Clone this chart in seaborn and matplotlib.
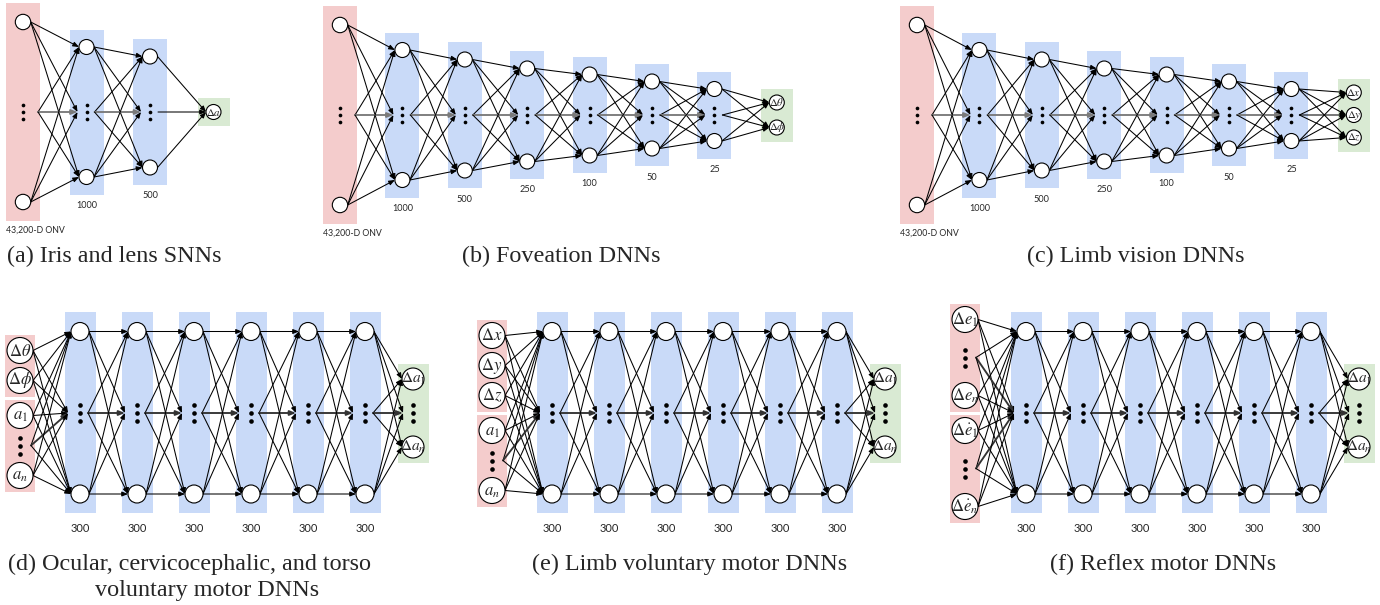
import matplotlib
matplotlib.use("Agg")
import matplotlib.pyplot as plt
from matplotlib.patches import Circle, Rectangle
import pandas as pd
import seaborn as sns

# ---- data ----
V = "vdots"  # a vertical ellipsis standing in for the rest of a layer

onv_label = "43,200-D ONV"
sizes_a = ["1000", "500"]
sizes_bc = ["1000", "500", "250", "100", "50", "25"]
sizes_def = ["300", "300", "300", "300", "300", "300"]

out_a = [r"$\Delta a$"]
out_b = [r"$\Delta\theta$", r"$\Delta\phi$"]
out_c = [r"$\Delta x$", r"$\Delta y$", r"$\Delta z$"]
out_def = [r"$\Delta a_1$", V, r"$\Delta a_n$"]

in_d = [[r"$\Delta\theta$", r"$\Delta\phi$"], [r"$a_1$", V, r"$a_n$"]]
in_e = [[r"$\Delta x$", r"$\Delta y$", r"$\Delta z$"], [r"$a_1$", V, r"$a_n$"]]
in_f = [[r"$\Delta e_1$", V, r"$\Delta e_n$"],
        [r"$\Delta\dot{e}_1$", V, r"$\Delta\dot{e}_n$"]]

cap_a = "(a) Iris and lens SNNs"
cap_b = "(b) Foveation DNNs"
cap_c = "(c) Limb vision DNNs"
cap_d = ["(d) Ocular, cervicocephalic, and torso", "voluntary motor DNNs"]
cap_e = ["(e) Limb voluntary motor DNNs"]
cap_f = ["(f) Reflex motor DNNs"]

PINK, BLUE, GREEN = "#F4CCCC", "#C9DAF8", "#D9EAD3"

sns.set_theme(style="white")
plt.rcParams["mathtext.fontset"] = "stix"
plt.rcParams["font.family"] = ["DejaVu Sans"]
SANS = "Lato"
SERIF = "Liberation Serif"
CAP_FS = 17.4

fig = plt.figure(figsize=(13.8, 6.05), dpi=100)
ax = fig.add_axes([0, 0, 1, 1])

dots_small = []
dots_big = []


def item(x, y, label, r, din, dout, fs, dotlist, gap):
    # returns (x, y, is_dots, left offset, right offset)
    if label == V:
        for k in (-1, 0, 1):
            dotlist.append((x, y + k * gap))
        return (x, y, True, din, dout)
    ax.add_patch(Circle((x, y), r, facecolor="white", edgecolor="black",
                        lw=0.8, zorder=3))
    ax.text(x, y, label, ha="center", va="center", fontsize=fs, zorder=4)
    return (x, y, False, r, r)


def link(a, b, grey, lw):
    col = "black"
    width = lw
    if a[2] and b[2]:
        col = grey
        width = lw * 1.8
    ax.annotate("", xy=(b[0] - b[3], b[1]), xytext=(a[0] + a[4], a[1]),
                arrowprops=dict(arrowstyle="-|>,head_length=0.5,head_width=0.2",
                                color=col, lw=width, shrinkA=0, shrinkB=0,
                                mutation_scale=7),
                zorder=2)


def connect(layers, grey, lw=0.75):
    for src, dst in zip(layers[:-1], layers[1:]):
        for a in src:
            for b in dst:
                link(a, b, grey, lw)


def top_panel(x0, yc, step, sizes, outs, out_gap, caption, cap_x):
    spreads = [65, 55.5, 46.5, 40.5, 33.5, 26]
    layers = []
    # input column
    sp_in = 90
    ax.add_patch(Rectangle((x0 - 17, yc - sp_in - 19), 34, 2 * sp_in + 38,
                           facecolor=PINK, lw=0, zorder=0))
    ax.text(x0 - 17, yc + sp_in + 28, onv_label, ha="left", va="center",
            fontsize=6.3, family=SANS)
    layers.append([item(x0, yc - sp_in, "", 7.7, 0, 0, 6, dots_small, 7),
                   item(x0, yc, V, 0, 0, 15, 6, dots_small, 7),
                   item(x0, yc + sp_in, "", 7.7, 0, 0, 6, dots_small, 7)])
    for i, lab in enumerate(sizes):
        x = x0 + step * (i + 1)
        sp = spreads[i]
        half = sp + 17.5
        ax.add_patch(Rectangle((x - 17, yc - half), 34, 2 * half,
                               facecolor=BLUE, lw=0, zorder=0))
        ax.text(x, yc + half + 11, lab, ha="center", va="center",
                fontsize=6.6, family=SANS)
        layers.append([item(x, yc - sp, "", 7.5, 0, 0, 6, dots_small, 7),
                       item(x, yc, V, 0, 9, 8, 6, dots_small, 7),
                       item(x, yc + sp, "", 7.5, 0, 0, 6, dots_small, 7)])
    x = x0 + step * (len(sizes) + 1)
    n = len(outs)
    h = (n - 1) * out_gap + 28
    ax.add_patch(Rectangle((x - 16, yc - h / 2), 32, h,
                           facecolor=GREEN, lw=0, zorder=0))
    layers.append([item(x, yc + (k - (n - 1) / 2) * out_gap, lab, 7.5, 0, 0,
                        7.8, dots_small, 7) for k, lab in enumerate(outs)])
    connect(layers, "#7a7a7a")
    ax.text(cap_x, 262, caption, ha="center", va="baseline",
            fontsize=CAP_FS, family=SERIF)


def bottom_panel(x_in, groups, in_step, x_h0, sizes, outs, caption, cap_xs):
    yc = 413
    pad, gap = 16, 3
    total = sum((len(g) - 1) * in_step + 2 * pad for g in groups) + gap * (len(groups) - 1)
    y = yc - total / 2
    first = []
    for g in groups:
        h = (len(g) - 1) * in_step + 2 * pad
        ax.add_patch(Rectangle((x_in - 15, y), 30, h, facecolor=PINK, lw=0, zorder=0))
        for k, lab in enumerate(g):
            first.append(item(x_in, y + pad + k * in_step, lab, 13, 0, 11,
                              12, dots_big, 8))
        y += h + gap
    layers = [first]
    step = 57
    for i, lab in enumerate(sizes):
        x = x_h0 + step * i
        ax.add_patch(Rectangle((x - 15.5, 312), 31, 201, facecolor=BLUE, lw=0, zorder=0))
        ax.text(x, 528, lab, ha="center", va="center", fontsize=8, family=SANS)
        layers.append([item(x, 331.5, "", 9, 0, 0, 10, dots_big, 8),
                       item(x, yc, V, 0, 12, 8, 10, dots_big, 8),
                       item(x, 494, "", 9, 0, 0, 10, dots_big, 8)])
    x = x_h0 + step * (len(sizes) - 1) + 48
    ax.add_patch(Rectangle((x - 15.5, 364), 31, 99, facecolor=GREEN, lw=0, zorder=0))
    n = len(outs)
    layers.append([item(x, yc + (k - (n - 1) / 2) * 34, lab, 11, 10, 0,
                        11, dots_big, 8) for k, lab in enumerate(outs)])
    connect(layers, "#333333")
    for k, (line, cx) in enumerate(zip(caption, cap_xs)):
        ax.text(cx, 570 + 26 * k, line, ha="center", va="baseline",
                fontsize=CAP_FS, family=SERIF)


top_panel(23, 112, 63.5, sizes_a, out_a, 0, cap_a, 114)
top_panel(340, 115, 62.4, sizes_bc, out_b, 25, cap_b, 561)
top_panel(917, 115, 62.4, sizes_bc, out_c, 22.5, cap_c, 1136)

bottom_panel(20, in_d, 30, 80, sizes_def, out_def, cap_d, [189, 207])
bottom_panel(492, in_e, 30, 552, sizes_def, out_def, cap_e, [690])
bottom_panel(965, in_f, 38, 1026, sizes_def, out_def, cap_f, [1163])

small = pd.DataFrame(dots_small, columns=["x", "y"])
big = pd.DataFrame(dots_big, columns=["x", "y"])
sns.scatterplot(data=small, x="x", y="y", s=7, color="black", linewidth=0,
                ax=ax, zorder=5, legend=False)
sns.scatterplot(data=big, x="x", y="y", s=11, color="black", linewidth=0,
                ax=ax, zorder=5, legend=False)

ax.set_xlim(0, 1380)
ax.set_ylim(605, 0)
ax.set_aspect("auto")
ax.axis("off")

fig.savefig("out.png", dpi=100, facecolor="white")
